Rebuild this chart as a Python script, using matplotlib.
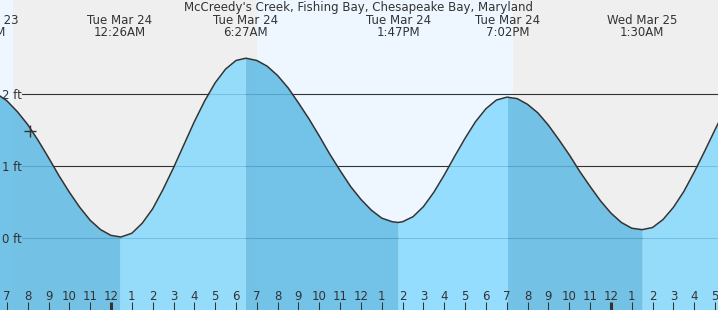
import numpy as np
import matplotlib
matplotlib.use("Agg")
import matplotlib.pyplot as plt
from matplotlib.transforms import blended_transform_factory

# ---------------- data (hours relative to midnight starting Tue Mar 24) ----------------
title = "McCreedy's Creek, Fishing Bay, Chesapeake Bay, Maryland"

event_hours = [-6.1, 0.433, 6.45, 13.783, 19.033, 25.5]
event_heights = [2.05, 0.02, 2.50, 0.22, 1.96, 0.12]
event_days = ["Mon Mar 23", "Tue Mar 24", "Tue Mar 24", "Tue Mar 24", "Tue Mar 24", "Wed Mar 25"]
event_times = ["5:54PM", "12:26AM", "6:27AM", "1:47PM", "7:02PM", "1:30AM"]

# half-hourly water level readings (ft), from -5.5 h to 29.5 h
reading_hours = np.arange(-5.5, 30.0, 0.5)
reading_heights = [
    2.01, 1.91, 1.76, 1.58, 1.36, 1.12, 0.87, 0.64, 0.43, 0.25, 0.12, 0.04,
    0.02, 0.07, 0.21, 0.41, 0.68, 0.98, 1.30, 1.62, 1.91, 2.16, 2.35, 2.47,
    2.50, 2.47, 2.39, 2.26, 2.09, 1.88, 1.66, 1.42, 1.17, 0.94, 0.72, 0.54, 0.39, 0.28, 0.23,
    0.23, 0.30, 0.44, 0.64, 0.88, 1.14, 1.39, 1.62, 1.80, 1.92, 1.96,
    1.94, 1.86, 1.74, 1.57, 1.37, 1.16, 0.93, 0.72, 0.52, 0.35, 0.22, 0.14,
    0.12, 0.15, 0.26, 0.43, 0.65, 0.92, 1.21, 1.51, 1.80,
]

# daylight intervals (sunrise / sunset)
day_intervals = [(-8.0, -4.70), (7.01, 19.30)]

# current time marker
now_hour, now_height = -3.89, 1.49

# hour ticks
tick_hours = list(range(-5, 30))
tick_labels = ["7", "8", "9", "10", "11", "12",
               "1", "2", "3", "4", "5", "6", "7", "8", "9", "10", "11", "12",
               "1", "2", "3", "4", "5", "6", "7", "8", "9", "10", "11", "12",
               "1", "2", "3", "4", "5"]
midnight_hours = [0, 24]

grid_levels = [0, 1, 2]
grid_labels = ["0 ft", "1 ft", "2 ft"]

# ---------------- layout / style ----------------
W, H = 718, 310
X_START, X_END = -5.33, 29.14
Y_BOTTOM, Y_TOP = -0.996, 3.31
FS = 8.5

night_bg = "#efefef"
day_bg = "#eef7ff"
dark_fill = "#5db9e4"
light_fill = "#86d9fe"
fill_alpha = 0.85
ink = "#333333"

fig = plt.figure(figsize=(W / 100, H / 100), dpi=100)
fig.patch.set_facecolor(night_bg)
ax = fig.add_axes([0, 0, 1, 1])
ax.set_facecolor(night_bg)
ax.set_xlim(X_START, X_END)
ax.set_ylim(Y_BOTTOM, Y_TOP)
ax.axis("off")

bt = blended_transform_factory(ax.transData, ax.transAxes)

def yfrac(px):
    return 1 - px / H

# daylight bands
for a, b in day_intervals:
    ax.axvspan(a, b, color=day_bg, lw=0, zorder=0)

# grid lines (beneath the semi-transparent fill)
for lev in grid_levels:
    ax.axhline(lev, xmin=22 / W, xmax=1, color=ink, lw=0.8, zorder=1)

# merge readings with event extremes
t_all = np.concatenate([reading_hours, np.array(event_hours)])
h_all = np.concatenate([np.array(reading_heights), np.array(event_heights)])
t_u, idx = np.unique(t_all, return_index=True)
h_u = h_all[idx]

# fills alternating between tide events
bounds = [-np.inf] + [e for e in event_hours if X_START < e < X_END] + [np.inf]
first_falling = True
for i in range(len(bounds) - 1):
    m = (t_u >= bounds[i]) & (t_u <= bounds[i + 1])
    falling = (i % 2 == 0) == first_falling
    ax.fill_between(t_u[m], Y_BOTTOM, h_u[m], color=dark_fill if falling else light_fill,
                    alpha=fill_alpha, lw=0, zorder=2)

ax.plot(t_u, h_u, color=ink, lw=1.1, zorder=3, solid_joinstyle="round")

# current-time marker
ax.plot([now_hour], [now_height], marker="+", ms=8, mew=1.0, color=ink, zorder=4)

# y labels
for lev, lab in zip(grid_levels, grid_labels):
    ax.text(X_START + 2.5 / 20.83, lev, lab, ha="left", va="center_baseline",
            fontsize=FS, color=ink, zorder=5)

# hour ticks and labels
for hr, lab in zip(tick_hours, tick_labels):
    lw = 2.2 if hr in midnight_hours else 0.75
    ax.plot([hr, hr], [0, 8 / H], transform=bt, color=ink, lw=lw,
            solid_capstyle="butt", zorder=5)
    ax.text(hr, yfrac(300), lab, transform=bt, ha="center", va="baseline",
            fontsize=FS, color=ink, zorder=5)

# title and event labels (two-line labels as single texts)
fig.text(0.5, yfrac(11), title, ha="center", va="baseline", fontsize=FS, color=ink)
for eh, d, tm in zip(event_hours, event_days, event_times):
    ax.text(eh, yfrac(13.5), f"{d}\n{tm}", transform=bt, ha="center", va="top",
            fontsize=FS, color=ink, clip_on=False, linespacing=0.93,
            multialignment="center")

fig.savefig("out.png", dpi=100, facecolor=night_bg)
